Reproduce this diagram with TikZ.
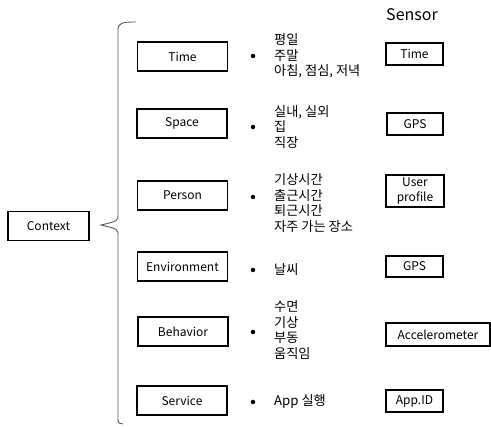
\documentclass[tikz,border=0pt]{standalone}
\usepackage{fontspec}
\setmainfont{Noto Sans CJK KR}
\begin{document}
\begin{tikzpicture}[x=1pt,y=-1pt,
  cbox/.style={draw,line width=1.3pt,minimum width=#1,minimum height=29pt,inner sep=0pt,font=\fontsize{12}{14}\selectfont},
  cbox/.default=90pt,
  sbox/.style={draw,line width=1.3pt,inner sep=0pt,font=\fontsize{12}{14}\selectfont,align=center},
  items/.style={anchor=west,align=left,font=\fontsize{13.2}{15.4}\selectfont,inner sep=0pt},
  dot/.style={circle,fill,inner sep=0pt,minimum size=4.5pt}]
\useasboundingbox (0,0) rectangle (491,427);
% left
\node[cbox=81pt] (ctx) at (48.5,226) {Context};
\coordinate (btip) at (101,225);
\draw[line width=0.9pt,black!65] (136,22) .. controls (122,22) and (118,23) .. (118,30) -- (118,214) .. controls (118,221) .. (btip) .. controls (118,229) .. (118,236) -- (118,418) .. controls (118,423) .. (123,424);
% categories
\node[cbox] (time) at (182.5,56.5) {Time};
\node[cbox] (space) at (182,123.5) {Space};
\node[cbox] (person) at (182.5,195.5) {Person};
\node[cbox] (env) at (182.5,266.5) {Environment};
\node[cbox] (beh) at (183,331.5) {Behavior};
\node[cbox] (serv) at (182,400.5) {Service};
% bullets
\node[dot] (d1) at (253,56) {};
\node[dot] (d2) at (253,127) {};
\node[dot] (d3) at (253,197) {};
\node[dot] (d4) at (253,270) {};
\node[dot] (d5) at (253,332) {};
\node[dot] (d6) at (253,402) {};
\node[items] (t1) at (274,56) {평일\\주말\\아침, 점심, 저녁};
\node[items] (t2) at (274,127) {실내, 실외\\집\\직장};
\node[items] (t3) at (274,203) {기상시간\\출근시간\\퇴근시간\\자주 가는 장소};
\node[items] (t4) at (274,270) {날씨};
\node[items] (t5) at (274,330) {수면\\기상\\부동\\움직임};
\node[items] (t6) at (274,402) {App 실행};
% sensors
\node[font=\fontsize{16}{18}\selectfont] (sensor) at (412,15) {Sensor};
\node[sbox,minimum width=57pt,minimum height=22pt] (s1) at (414.5,54) {Time};
\node[sbox,minimum width=56pt,minimum height=22pt] (s2) at (415,124) {GPS};
\node[sbox,minimum width=58pt,minimum height=32pt,font=\fontsize{12}{15}\selectfont] (s3) at (415,191) {User\\profile};
\node[sbox,minimum width=57pt,minimum height=21pt] (s4) at (414.5,266.5) {GPS};
\node[sbox,minimum width=104pt,minimum height=23pt] (s5) at (438,334.5) {Accelerometer};
\node[sbox,minimum width=57pt,minimum height=22pt] (s6) at (414.5,401) {App.ID};
\end{tikzpicture}
\end{document}
